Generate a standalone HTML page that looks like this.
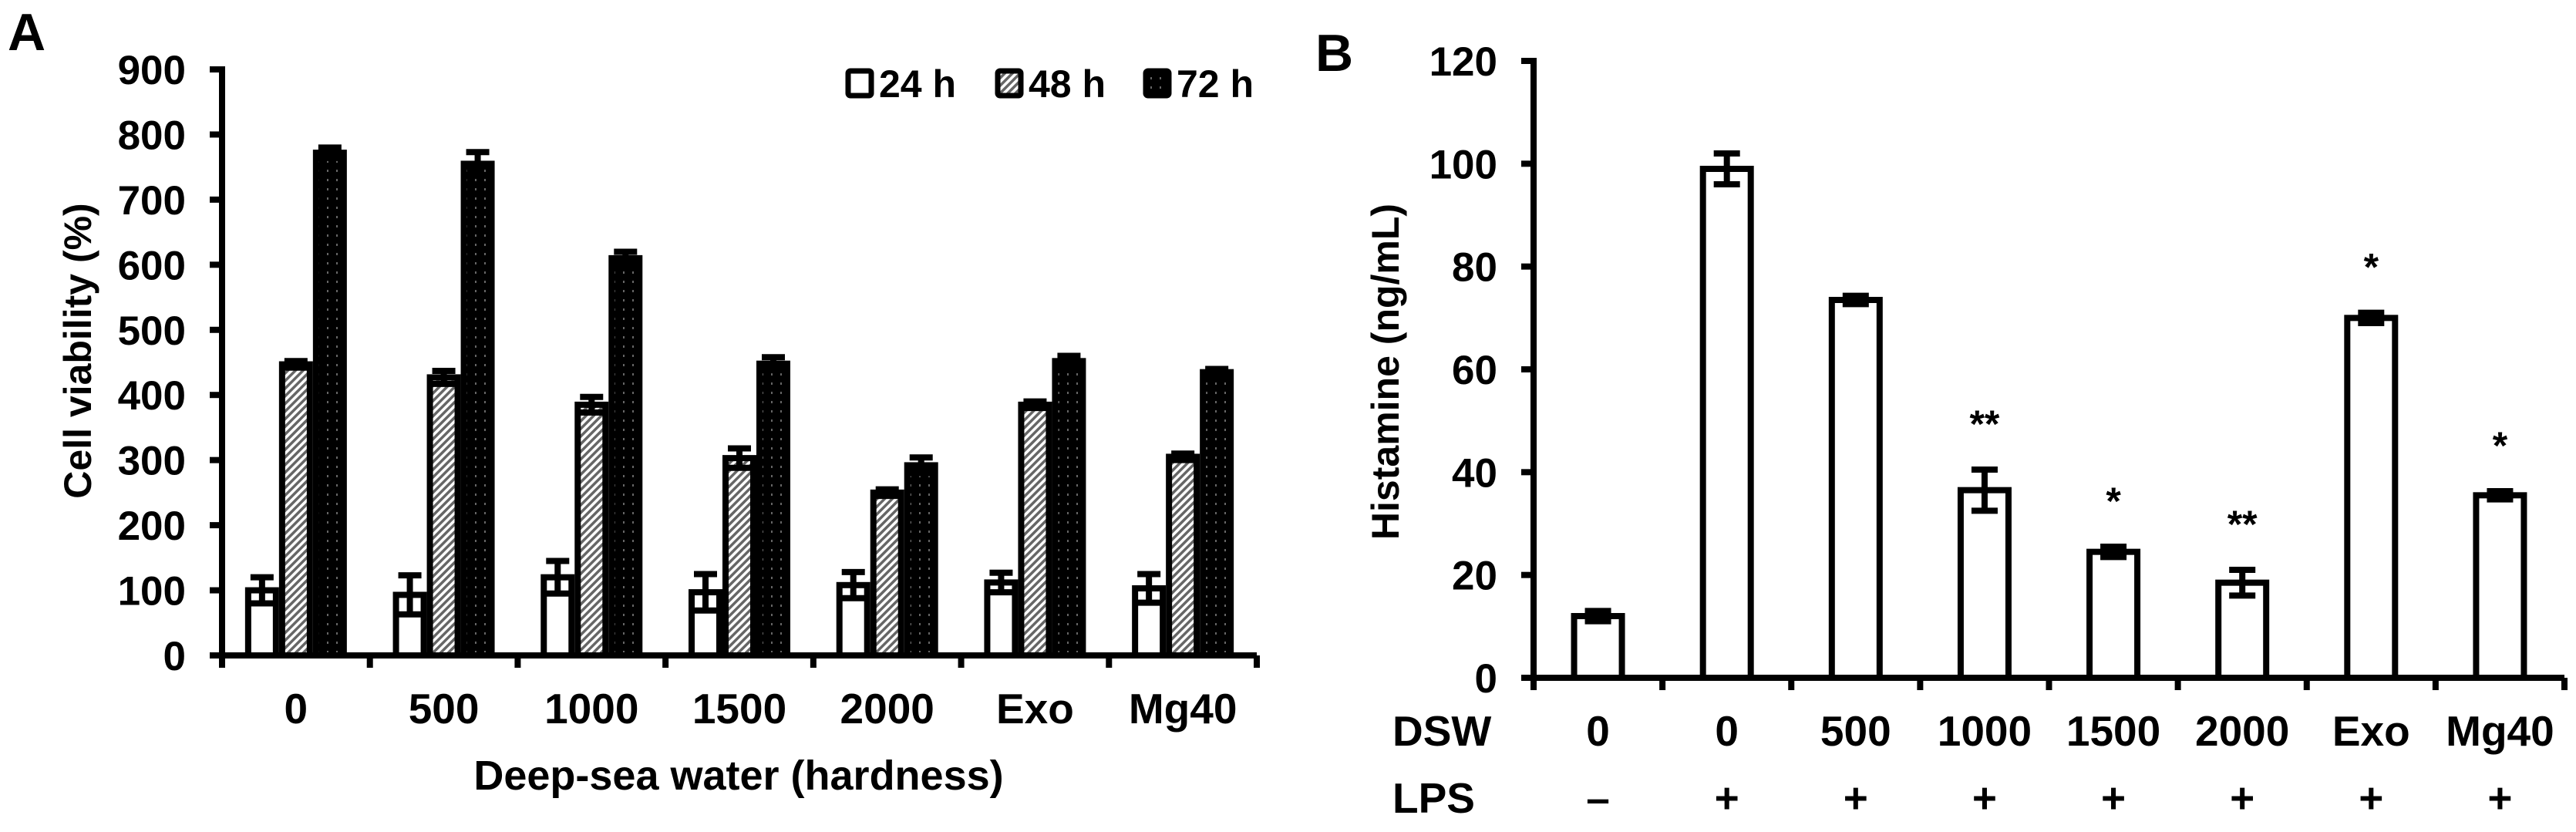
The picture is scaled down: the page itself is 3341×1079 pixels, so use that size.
<!DOCTYPE html>
<html><head><meta charset="utf-8"><style>
html,body{margin:0;padding:0;background:#fff;}
svg{display:block;}
text{font-family:"Liberation Sans",sans-serif;font-weight:bold;fill:#000;}
.wide{font-family:"Liberation Sans",sans-serif;}
</style></head><body>
<svg id="fig" width="3341" height="1079" viewBox="0 0 3341 1079" xmlns="http://www.w3.org/2000/svg">
<defs>
<pattern id="hatch" width="7" height="7" patternUnits="userSpaceOnUse" patternTransform="rotate(45)">
<rect width="7" height="7" fill="#fff"/><rect width="3.5" height="7" fill="#666"/>
</pattern>
<pattern id="dots" width="12" height="12" patternUnits="userSpaceOnUse">
<rect width="12" height="12" fill="#000"/><rect x="4" y="4" width="2" height="3" fill="#666"/>
</pattern>
</defs>
<g id="panelA"></g>
<g id="panelB"></g>
</svg>
<script>
const catsA = ["0","500","1000","1500","2000","Exo","Mg40"];
const seriesNames = ["24 h","48 h","72 h"];
const v24 = [100,93,120,97,108,112,103];
const e24 = [20,30,25,28,20,15,22];
const v48 = [447,427,385,303,250,385,305];
const e48 = [5,10,12,15,5,5,5];
const v72 = [772,755,610,448,292,452,435];
const e72 = [8,18,10,10,12,8,5];
const ticksA = [0,100,200,300,400,500,600,700,800,900];

const dswB = ["0","0","500","1000","1500","2000","Exo","Mg40"];
const lpsB = ["\u2013","+","+","+","+","+","+","+"];
const valB = [12,99,73.5,36.5,24.5,18.5,70,35.5];
const errB = [1,3,0.8,4,1,2.5,1,0.8];
const starsB = ["","","","**","*","**","*","*"];
const ticksB = [0,20,40,60,80,100,120];

const NS="http://www.w3.org/2000/svg";
function mk(parent,tag,attrs,txt){const e=document.createElementNS(NS,tag);for(const k in attrs)e.setAttribute(k,attrs[k]);if(txt!==undefined)e.textContent=txt;parent.appendChild(e);return e;}

// Panel A
const A=document.getElementById('panelA');
const ax0=288, ay0=850, ayTop=90, axEnd=1630, aMax=900;
const yA=v=>ay0-(v/aMax)*(ay0-ayTop);
const slotA=(axEnd-ax0)/catsA.length;
const xA=i=>ax0+slotA*(i+0.5);
let t;
t=mk(A,'text',{x:10,y:65,'font-size':68,class:'wide'},'A');


const fills=["#fff","url(#hatch)","url(#dots)"];
const vals=[v24,v48,v72], errs=[e24,e48,e72];
const bw=44;
catsA.forEach((c,i)=>{
  for(let s=0;s<3;s++){
    const v=vals[s][i], e=errs[s][i];
    const x=xA(i)-1.5*bw+s*bw;
    const r=mk(A,'rect',{x:x+4,y:yA(v),width:bw-8,height:ay0-yA(v),fill:fills[s],stroke:'#000','stroke-width':8});
    
    
    const cx=x+bw/2;
    const eb=mk(A,'path',{d:`M${cx},${yA(v+e)}V${yA(v-e)}M${cx-15},${yA(v+e)}H${cx+15}M${cx-15},${yA(v-e)}H${cx+15}`,stroke:'#000','stroke-width':8,fill:'none'});
    
    
  }
  t=mk(A,'text',{x:xA(i),y:938,'font-size':55,'text-anchor':'middle'},c);
  
  
});
let ax=mk(A,'path',{d:`M${ax0},${ayTop-4}V${ay0}M${ax0-4},${ay0}H${axEnd}`,stroke:'#000','stroke-width':8,fill:'none'});


for(let k=0;k<=catsA.length;k++){
  const tk=mk(A,'path',{d:`M${ax0+slotA*k},${ay0}v16`,stroke:'#000','stroke-width':8});
  
  
}
ticksA.forEach(v=>{
  const tk=mk(A,'path',{d:`M${ax0-16},${yA(v)}H${ax0}`,stroke:'#000','stroke-width':8});
  
  
  t=mk(A,'text',{x:241,y:yA(v)+19,'font-size':53,'text-anchor':'end'},String(v));
  
  
});
t=mk(A,'text',{x:0,y:0,'font-size':50,'text-anchor':'middle',class:'wide',transform:'translate(118,455) rotate(-90)'},'Cell viability (%)');


t=mk(A,'text',{x:958,y:1024,'font-size':54,'text-anchor':'middle'},'Deep-sea  water (hardness)');


const legX=[1096,1290,1482];
seriesNames.forEach((n,s)=>{
  const r=mk(A,'rect',{x:legX[s]+4,y:92,width:30,height:32,fill:fills[s],stroke:'#000','stroke-width':7,rx:3});
  
  
  t=mk(A,'text',{x:legX[s]+44,y:126,'font-size':50},n);
  
  
});

// Panel B
const B=document.getElementById('panelB');
const bx0=1989, by0=879, byTop=79, bxEnd=3326, bMax=120;
const yB=v=>by0-(v/bMax)*(by0-byTop);
const slotB=(bxEnd-bx0)/dswB.length;
const xB=i=>bx0+slotB*(i+0.5);
t=mk(B,'text',{x:1706,y:92,'font-size':68,class:'wide'},'B');


const bbw=70;
valB.forEach((v,i)=>{
  const x=xB(i)-bbw/2;
  const r=mk(B,'rect',{x:x+4,y:yB(v),width:bbw-8,height:by0-yB(v),fill:'#fff',stroke:'#000','stroke-width':8});
  
  
  const e=errB[i], cx=xB(i);
  const eb=mk(B,'path',{d:`M${cx},${yB(v+e)}V${yB(v-e)}M${cx-17},${yB(v+e)}H${cx+17}M${cx-17},${yB(v-e)}H${cx+17}`,stroke:'#000','stroke-width':8,fill:'none'});
  
  
  if(starsB[i]){
    t=mk(B,'text',{x:cx,y:yB(v+e)-42,'font-size':50,'text-anchor':'middle'},starsB[i]);
    
    
  }
  t=mk(B,'text',{x:cx,y:967,'font-size':55,'text-anchor':'middle'},dswB[i]);
  
  
  t=mk(B,'text',{x:cx,y:1054,'font-size':55,'text-anchor':'middle'},lpsB[i]);
  
  
});
t=mk(B,'text',{x:1806,y:967,'font-size':55},'DSW');


t=mk(B,'text',{x:1806,y:1054,'font-size':55},'LPS');


ax=mk(B,'path',{d:`M${bx0},${byTop-4}V${by0}M${bx0-4},${by0}H${bxEnd}`,stroke:'#000','stroke-width':8,fill:'none'});


for(let k=0;k<=dswB.length;k++){
  const tk=mk(B,'path',{d:`M${bx0+slotB*k},${by0}v16`,stroke:'#000','stroke-width':8});
  
  
}
ticksB.forEach(v=>{
  const tk=mk(B,'path',{d:`M${bx0-16},${yB(v)}H${bx0}`,stroke:'#000','stroke-width':8});
  
  
  t=mk(B,'text',{x:1942,y:yB(v)+19,'font-size':53,'text-anchor':'end'},String(v));
  
  
});
t=mk(B,'text',{x:0,y:0,'font-size':50,'text-anchor':'middle',class:'wide',transform:'translate(1814,482) rotate(-90)'},'Histamine  (ng/mL)');


</script>
</body></html>
